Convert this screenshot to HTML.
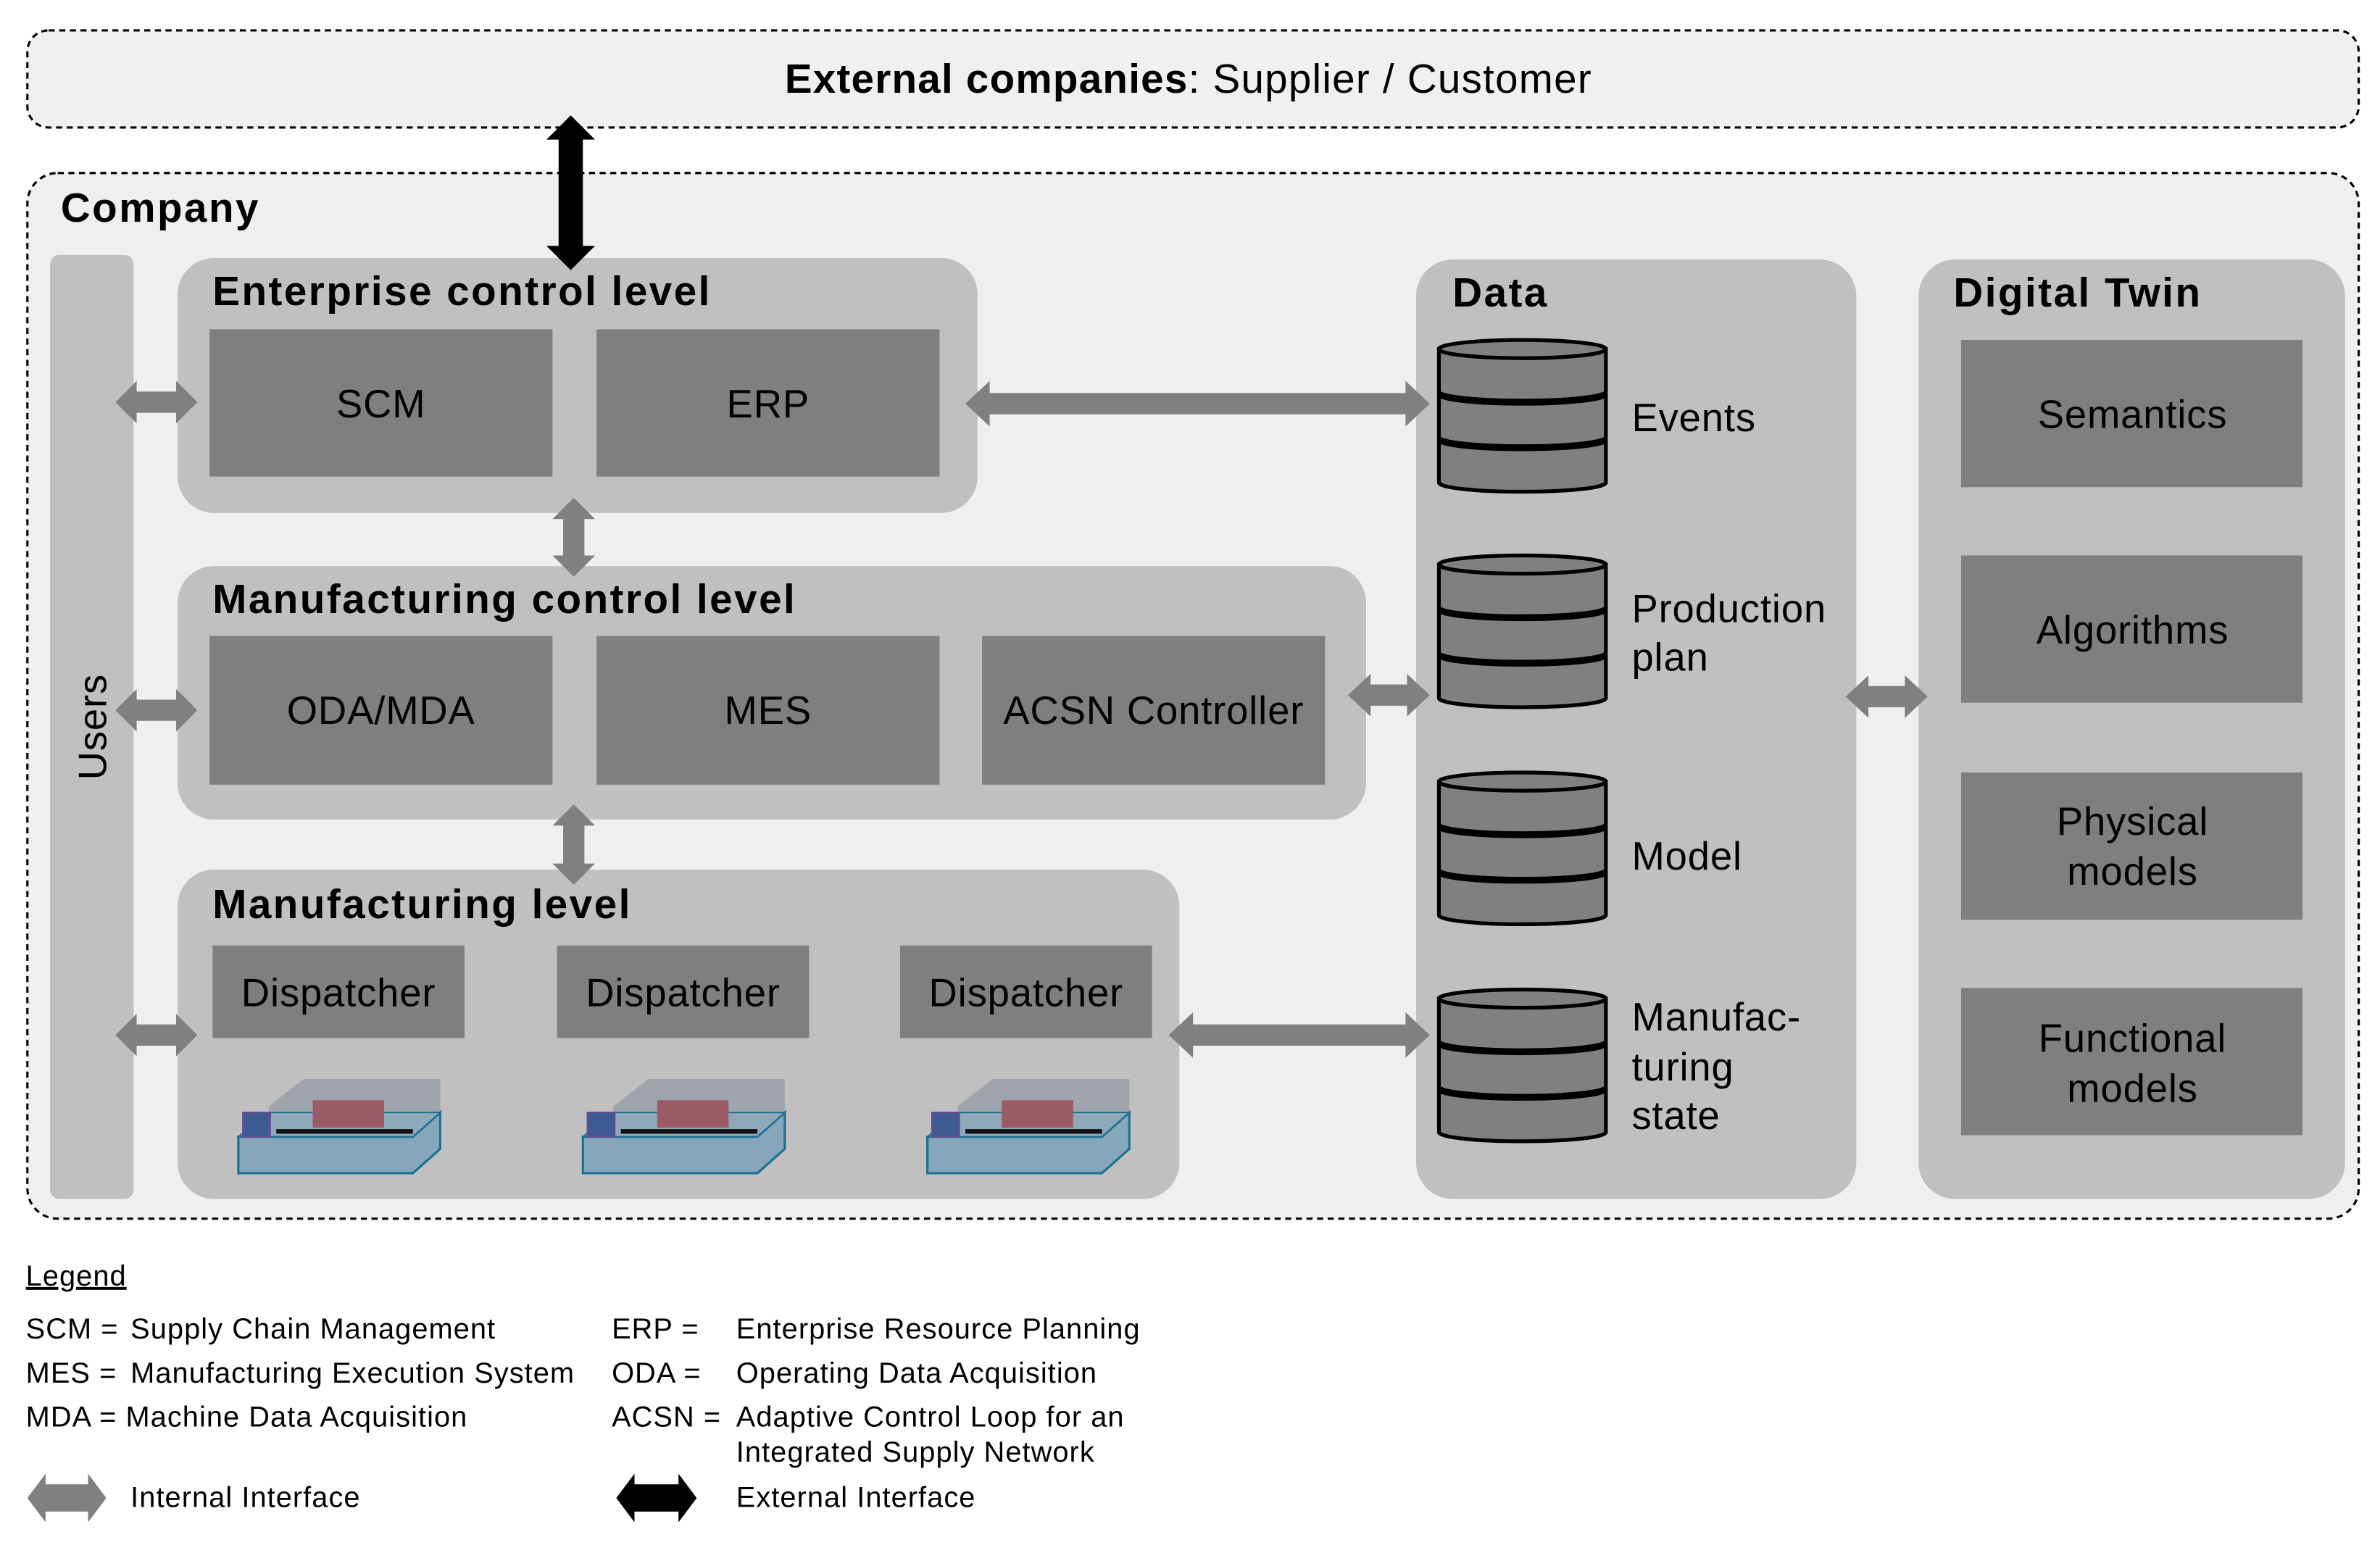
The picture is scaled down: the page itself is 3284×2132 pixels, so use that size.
<!DOCTYPE html>
<html><head><meta charset="utf-8"><style>
html,body{margin:0;padding:0;background:#fff}
svg{display:block}
text{font-family:"Liberation Sans","DejaVu Sans",sans-serif;fill:#000}
.t{font-size:27px;font-weight:bold;letter-spacing:1.2px}
.b{font-size:26px;letter-spacing:0.4px}
.l{font-size:19px;letter-spacing:0.5px}
</style></head><body>
<svg width="3284" height="2132" viewBox="0 0 1568 1018" xmlns="http://www.w3.org/2000/svg">
<defs>
<g id="cyl" stroke="#000" stroke-width="2.5" fill="#808080">
<path d="M0 66 L0 94 A55 6 0 0 0 110 94 L110 66 Z"/><ellipse cx="55" cy="66" rx="55" ry="6"/>
<path d="M0 36 L0 64 A55 6 0 0 0 110 64 L110 36 Z"/><ellipse cx="55" cy="36" rx="55" ry="6"/>
<path d="M0 6 L0 34 A55 6 0 0 0 110 34 L110 6 Z"/><ellipse cx="55" cy="6" rx="55" ry="6"/>
</g>
<g id="mach">
<path d="M43 4 L133 4 L133 40 L115 56 L20 56 L20 22 Z" fill="#9aa0a8" opacity="0.85"/>
<path d="M0 42 L115 42 L133 26 L133 50 L115 66 L0 66 Z" fill="#86a6bc" stroke="#1c7090" stroke-width="1.5"/>
<path d="M0 42 L115 42 L133 26 L20 26 Z" fill="#8fa9bb" stroke="#1c7090" stroke-width="1"/>
<rect x="3" y="26" width="18" height="16" fill="#3d5a92" stroke="#6a4a90"/>
<rect x="49" y="18" width="24" height="18" fill="#9a5a66"/>
<rect x="72" y="18" width="24" height="18" fill="#9a5a66"/>
<rect x="25" y="37" width="90" height="3" fill="#111"/>
</g>
</defs>
<rect x="18" y="20" width="1536" height="64" rx="14" fill="#f0f0f0" stroke="#000" stroke-width="1.5" stroke-dasharray="4,3"/>
<text x="517" y="61" style="font-size:27px;letter-spacing:0.6px"><tspan font-weight="bold">External companies</tspan>: Supplier / Customer</text>
<rect x="18" y="114" width="1536" height="689" rx="20" fill="#eeefee" stroke="#000" stroke-width="1.5" stroke-dasharray="4,3"/>
<text x="40" y="146" class="t">Company</text>
<rect x="33" y="168" width="55" height="622" rx="6" fill="#c0c0c0"/>
<text transform="translate(70,479) rotate(-90)" text-anchor="middle" class="b">Users</text>
<rect x="117" y="170" width="527" height="168" rx="24" fill="#c0c0c0"/>
<text x="140" y="201" class="t">Enterprise control level</text>
<rect x="138" y="217" width="226" height="97" fill="#7f7f7f"/><text x="251" y="275" text-anchor="middle" class="b">SCM</text>
<rect x="393" y="217" width="226" height="97" fill="#7f7f7f"/><text x="506" y="275" text-anchor="middle" class="b">ERP</text>
<rect x="117" y="373" width="783" height="167" rx="24" fill="#c0c0c0"/>
<text x="140" y="404" class="t">Manufacturing control level</text>
<rect x="138" y="419" width="226" height="98" fill="#7f7f7f"/><text x="251" y="477" text-anchor="middle" class="b">ODA/MDA</text>
<rect x="393" y="419" width="226" height="98" fill="#7f7f7f"/><text x="506" y="477" text-anchor="middle" class="b">MES</text>
<rect x="647" y="419" width="226" height="98" fill="#7f7f7f"/><text x="760" y="477" text-anchor="middle" class="b">ACSN Controller</text>
<rect x="117" y="573" width="660" height="217" rx="24" fill="#c0c0c0"/>
<text x="140" y="605" class="t">Manufacturing level</text>
<rect x="140" y="623" width="166" height="61" fill="#7f7f7f"/><text x="223" y="663" text-anchor="middle" class="b">Dispatcher</text>
<rect x="367" y="623" width="166" height="61" fill="#7f7f7f"/><text x="450" y="663" text-anchor="middle" class="b">Dispatcher</text>
<rect x="593" y="623" width="166" height="61" fill="#7f7f7f"/><text x="676" y="663" text-anchor="middle" class="b">Dispatcher</text>
<use href="#mach" x="157" y="707"/><use href="#mach" x="384" y="707"/><use href="#mach" x="611" y="707"/>
<rect x="933" y="171" width="290" height="619" rx="24" fill="#c0c0c0"/>
<text x="957" y="202" class="t">Data</text>
<use href="#cyl" x="948" y="224"/><use href="#cyl" x="948" y="366"/><use href="#cyl" x="948" y="509"/><use href="#cyl" x="948" y="652"/>
<text x="1075" y="284" class="b">Events</text>
<text x="1075" y="410" class="b">Production</text><text x="1075" y="442" class="b">plan</text>
<text x="1075" y="573" class="b">Model</text>
<text x="1075" y="679" class="b">Manufac-</text><text x="1075" y="712" class="b">turing</text><text x="1075" y="744" class="b">state</text>
<rect x="1264" y="171" width="281" height="619" rx="24" fill="#c0c0c0"/>
<text x="1287" y="202" class="t">Digital Twin</text>
<rect x="1292" y="224" width="225" height="97" fill="#7f7f7f"/><text x="1405" y="282" text-anchor="middle" class="b">Semantics</text>
<rect x="1292" y="366" width="225" height="97" fill="#7f7f7f"/><text x="1405" y="424" text-anchor="middle" class="b">Algorithms</text>
<rect x="1292" y="509" width="225" height="97" fill="#7f7f7f"/><text x="1405" y="550" text-anchor="middle" class="b">Physical</text><text x="1405" y="583" text-anchor="middle" class="b">models</text>
<rect x="1292" y="651" width="225" height="97" fill="#7f7f7f"/><text x="1405" y="693" text-anchor="middle" class="b">Functional</text><text x="1405" y="726" text-anchor="middle" class="b">models</text>
<g fill="#808080">
<path d="M76 265 L90 251 L90 258 L116 258 L116 251 L130 265 L116 279 L116 272 L90 272 L90 279 Z"/>
<path d="M76 468 L90 454 L90 461 L116 461 L116 454 L130 468 L116 482 L116 475 L90 475 L90 482 Z"/>
<path d="M76 682 L90 668 L90 675 L116 675 L116 668 L130 682 L116 696 L116 689 L90 689 L90 696 Z"/>
<path d="M636 266 L652 251 L652 259 L926 259 L926 251 L942 266 L926 281 L926 273 L652 273 L652 281 Z"/>
<path d="M888 458 L903 444 L903 451 L927 451 L927 444 L942 458 L927 472 L927 465 L903 465 L903 472 Z"/>
<path d="M770 682 L786 667 L786 675 L926 675 L926 667 L942 682 L926 697 L926 689 L786 689 L786 697 Z"/>
<path d="M1216 459 L1231 445 L1231 452 L1255 452 L1255 445 L1270 459 L1255 473 L1255 466 L1231 466 L1231 473 Z"/>
<path d="M378 328 L392 342 L385 342 L385 366 L392 366 L378 380 L364 366 L371 366 L371 342 L364 342 Z"/>
<path d="M378 530 L392 544 L385 544 L385 569 L392 569 L378 583 L364 569 L371 569 L371 544 L364 544 Z"/>
<path d="M18 987 L30 971 L30 978 L58 978 L58 971 L70 987 L58 1003 L58 996 L30 996 L30 1003 Z"/>
</g>
<path d="M376 76 L392 92 L384 92 L384 162 L392 162 L376 178 L360 162 L368 162 L368 92 L360 92 Z" fill="#000"/>
<path d="M406 987 L418 971 L418 978 L447 978 L447 971 L459 987 L447 1003 L447 996 L418 996 L418 1003 Z" fill="#000"/>
<text x="17" y="847" class="l" text-decoration="underline">Legend</text>
<text x="17" y="882" class="l">SCM =</text><text x="86" y="882" class="l">Supply Chain Management</text>
<text x="17" y="911" class="l">MES =</text><text x="86" y="911" class="l">Manufacturing Execution System</text>
<text x="17" y="940" class="l">MDA = Machine Data Acquisition</text>
<text x="403" y="882" class="l">ERP =</text><text x="485" y="882" class="l">Enterprise Resource Planning</text>
<text x="403" y="911" class="l">ODA =</text><text x="485" y="911" class="l">Operating Data Acquisition</text>
<text x="403" y="940" class="l">ACSN =</text><text x="485" y="940" class="l">Adaptive Control Loop for an</text>
<text x="485" y="963" class="l">Integrated Supply Network</text>
<text x="86" y="993" class="l">Internal Interface</text>
<text x="485" y="993" class="l">External Interface</text>
</svg>
</body></html>
